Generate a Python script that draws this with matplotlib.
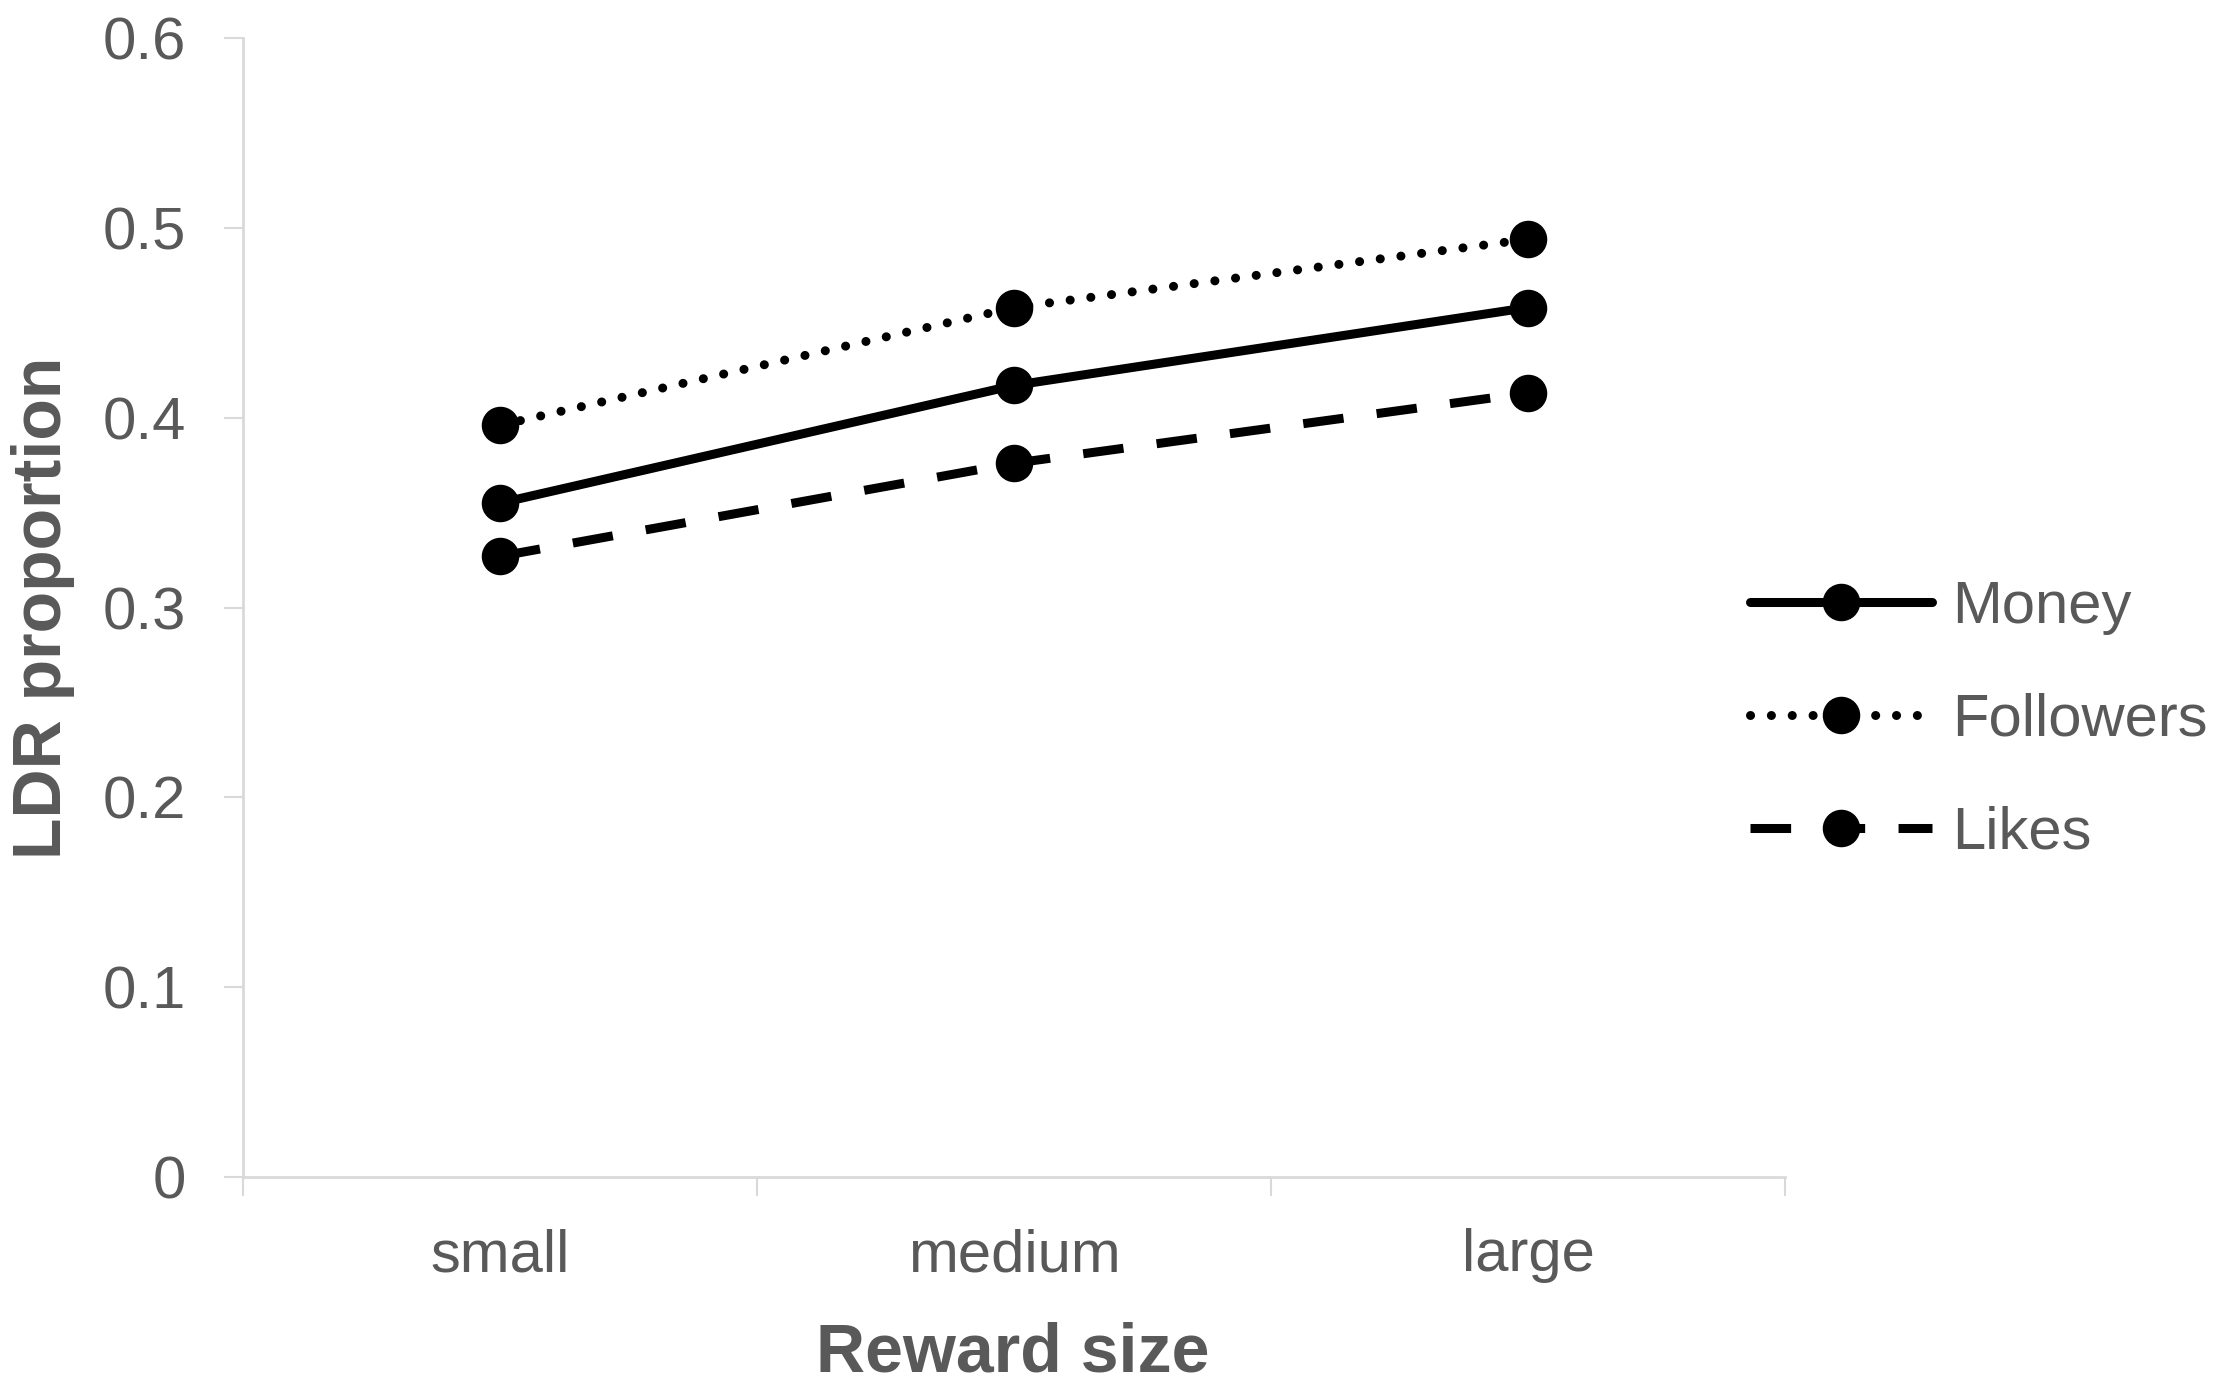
import matplotlib
matplotlib.use("Agg")
import matplotlib.pyplot as plt

# values
categories = ["small", "medium", "large"]
money = [0.355, 0.417, 0.458]
followers = [0.396, 0.458, 0.494]
likes = [0.327, 0.376, 0.413]
yticks = [0, 0.1, 0.2, 0.3, 0.4, 0.5, 0.6]
ytick_labels = ["0", "0.1", "0.2", "0.3", "0.4", "0.5", "0.6"]

TEXT = "#595959"
AXIS = "#d9d9d9"

plt.rcParams["font.family"] = ["Liberation Sans", "DejaVu Sans"]

W, H, DPI = 2228, 1383, 100
fig = plt.figure(figsize=(W / DPI, H / DPI), dpi=DPI)
ax = fig.add_axes([243 / W, 1 - 1177 / H, (1785 - 243) / W, (1177 - 38) / H])

x = list(range(len(categories)))
lw = 6.5
ms = 26
ax.plot(x, money, color="black", lw=lw, marker="o", ms=ms, label="Money",
        solid_capstyle="round")
ax.plot(x, followers, color="black", lw=lw, marker="o", ms=ms, label="Followers",
        linestyle=(0, (0.01, 2.3)), dash_capstyle="round")
ax.plot(x, likes, color="black", lw=lw, marker="o", ms=ms, label="Likes",
        linestyle=(0, (4.5, 3.7)), dash_capstyle="butt")

ax.set_xlim(-0.5, len(categories) - 0.5)
ax.set_ylim(0, 0.6)

for s in ["top", "right"]:
    ax.spines[s].set_visible(False)
for s in ["left", "bottom"]:
    ax.spines[s].set_color(AXIS)
    ax.spines[s].set_linewidth(2)

# category boundaries as major ticks, names on minor ticks
ax.set_xticks([i - 0.5 for i in range(len(categories) + 1)])
ax.set_xticklabels([])
ax.set_xticks(x, minor=True)
ax.set_xticklabels(categories, minor=True)
ax.tick_params(axis="x", which="major", length=14, width=1.5, color=AXIS, direction="out")
ax.tick_params(axis="x", which="minor", length=0, pad=37, labelsize=43, labelcolor=TEXT)

ax.set_yticks(yticks)
ax.set_yticklabels(ytick_labels)
ax.tick_params(axis="y", length=14, width=1.5, color=AXIS, direction="out",
               pad=27, labelsize=43, labelcolor=TEXT)

fig.text(1013 / W, 1 - 1372 / H, "Reward size", ha="center", va="baseline",
         fontsize=49, fontweight="bold", color=TEXT)
fig.text(43 / W, 1 - ((1177 + 38) / 2) / H, "LDR proportion", ha="center", va="center",
         rotation=90, fontsize=49, fontweight="bold", color=TEXT)

fig.legend(loc="center left", bbox_to_anchor=(1750 / W, 1 - 720 / H), frameon=False,
           fontsize=43, handlelength=3.05, handletextpad=0.33, labelspacing=0.97,
           borderpad=0, borderaxespad=0, numpoints=1, labelcolor=TEXT)

fig.savefig("out.png", dpi=DPI, facecolor="white")
